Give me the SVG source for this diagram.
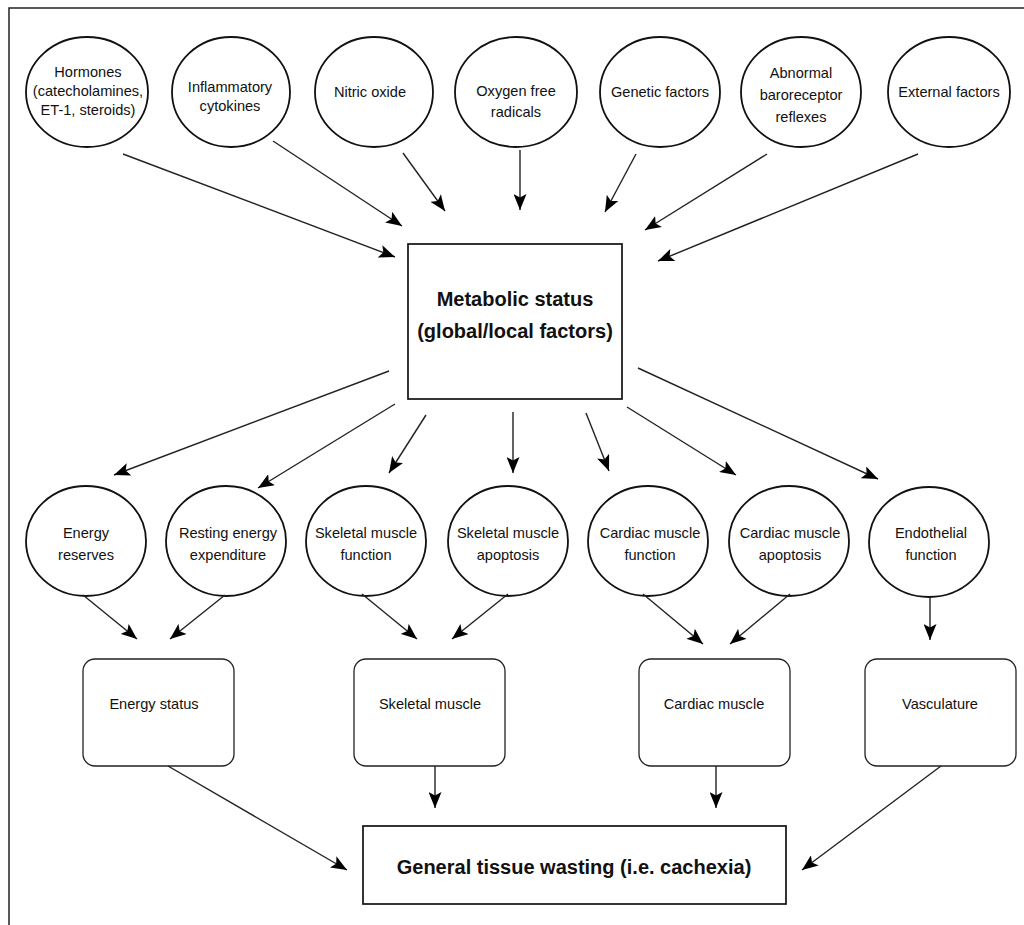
<svg xmlns="http://www.w3.org/2000/svg" width="1024" height="925" viewBox="0 0 1024 925">
<style>
  .frame { fill: none; stroke: #222; stroke-width: 1.5; }
  .ell { fill: #fff; stroke: #111; stroke-width: 1.8; }
  .box { fill: #fff; stroke: #111; stroke-width: 1.7; }
  .rbox { fill: #fff; stroke: #222; stroke-width: 1.3; }
  .t { font-family: "Liberation Sans", Arial, sans-serif; font-size: 14.6px; fill: #111; text-anchor: middle; }
  .tb { font-family: "Liberation Sans", Arial, sans-serif; font-size: 20px; font-weight: bold; fill: #111; text-anchor: middle; }
  .c line { stroke: #222; stroke-width: 1.4; marker-end: url(#arr); }
</style>
<defs>
  <marker id="arr" viewBox="0 0 16 13" refX="16" refY="6.5" markerWidth="16" markerHeight="13" markerUnits="userSpaceOnUse" orient="auto">
    <path d="M0,0 L16,6.5 L0,13 L3.5,6.5 z" fill="#000"/>
  </marker>
</defs>
<rect width="1024" height="925" fill="#fff"/>
<path class="frame" d="M1024,8 H9 V925"/>

<g id="n-hormones"><ellipse class="ell" cx="87" cy="92" rx="61" ry="55"/>
  <text class="t" x="88" y="77">Hormones</text><text class="t" x="88" y="96">(catecholamines,</text><text class="t" x="88" y="115">ET-1, steroids)</text></g>
<g id="n-inflammatory"><ellipse class="ell" cx="231" cy="92" rx="59" ry="55"/>
  <text class="t" x="230" y="92">Inflammatory</text><text class="t" x="230" y="111">cytokines</text></g>
<g id="n-nitric"><ellipse class="ell" cx="374" cy="92" rx="59" ry="55"/>
  <text class="t" x="370" y="97">Nitric oxide</text></g>
<g id="n-oxygen"><ellipse class="ell" cx="516" cy="92" rx="61" ry="55"/>
  <text class="t" x="516" y="96">Oxygen free</text><text class="t" x="516" y="117">radicals</text></g>
<g id="n-genetic"><ellipse class="ell" cx="660" cy="92" rx="60" ry="55"/>
  <text class="t" x="660" y="97">Genetic factors</text></g>
<g id="n-abnormal"><ellipse class="ell" cx="801" cy="92" rx="60" ry="55"/>
  <text class="t" x="801" y="78">Abnormal</text><text class="t" x="801" y="100">baroreceptor</text><text class="t" x="801" y="122">reflexes</text></g>
<g id="n-external"><ellipse class="ell" cx="949" cy="92" rx="61" ry="55"/>
  <text class="t" x="949" y="97">External factors</text></g>

<g id="n-metabolic"><rect class="box" x="408" y="244" width="214" height="155"/>
  <text class="tb" x="515" y="306">Metabolic status</text><text class="tb" x="515" y="338">(global/local factors)</text></g>

<g id="n-energy-reserves"><ellipse class="ell" cx="86" cy="541" rx="60" ry="55"/>
  <text class="t" x="86" y="538">Energy</text><text class="t" x="86" y="560">reserves</text></g>
<g id="n-resting"><ellipse class="ell" cx="226" cy="541" rx="60" ry="55"/>
  <text class="t" x="228" y="538">Resting energy</text><text class="t" x="228" y="560">expenditure</text></g>
<g id="n-skel-func"><ellipse class="ell" cx="366" cy="541" rx="60" ry="55"/>
  <text class="t" x="366" y="538">Skeletal muscle</text><text class="t" x="366" y="560">function</text></g>
<g id="n-skel-apop"><ellipse class="ell" cx="508" cy="541" rx="60" ry="55"/>
  <text class="t" x="508" y="538">Skeletal muscle</text><text class="t" x="508" y="560">apoptosis</text></g>
<g id="n-card-func"><ellipse class="ell" cx="648" cy="541" rx="60" ry="55"/>
  <text class="t" x="650" y="538">Cardiac muscle</text><text class="t" x="650" y="560">function</text></g>
<g id="n-card-apop"><ellipse class="ell" cx="789" cy="541" rx="60" ry="55"/>
  <text class="t" x="790" y="538">Cardiac muscle</text><text class="t" x="790" y="560">apoptosis</text></g>
<g id="n-endothelial"><ellipse class="ell" cx="929" cy="542" rx="60" ry="55"/>
  <text class="t" x="931" y="538">Endothelial</text><text class="t" x="931" y="560">function</text></g>

<g id="n-energy-status"><rect class="rbox" x="83" y="659" width="151" height="107" rx="12"/>
  <text class="t" x="154" y="709">Energy status</text></g>
<g id="n-skeletal"><rect class="rbox" x="354" y="659" width="151" height="107" rx="12"/>
  <text class="t" x="430" y="709">Skeletal muscle</text></g>
<g id="n-cardiac"><rect class="rbox" x="639" y="659" width="151" height="107" rx="12"/>
  <text class="t" x="714" y="709">Cardiac muscle</text></g>
<g id="n-vasculature"><rect class="rbox" x="865" y="659" width="151" height="107" rx="12"/>
  <text class="t" x="940" y="709">Vasculature</text></g>

<g id="n-general"><rect class="box" x="363" y="826" width="423" height="78"/>
  <text class="tb" x="574" y="874">General tissue wasting (i.e. cachexia)</text></g>

<g id="connectors" class="c">
  <line x1="123" y1="154" x2="395" y2="257"/>
  <line x1="273" y1="141" x2="402" y2="226"/>
  <line x1="403" y1="153" x2="445" y2="211"/>
  <line x1="520" y1="150" x2="520" y2="210"/>
  <line x1="636" y1="154" x2="605" y2="212"/>
  <line x1="767" y1="154" x2="645" y2="230"/>
  <line x1="918" y1="154" x2="658" y2="261"/>

  <line x1="389" y1="371" x2="114" y2="475"/>
  <line x1="395" y1="404" x2="258" y2="488"/>
  <line x1="426" y1="415" x2="389" y2="473"/>
  <line x1="513" y1="412" x2="513" y2="473"/>
  <line x1="586" y1="413" x2="609" y2="471"/>
  <line x1="627" y1="407" x2="736" y2="475"/>
  <line x1="638" y1="368" x2="878" y2="479"/>

  <line x1="83" y1="595" x2="137" y2="639"/>
  <line x1="225" y1="595" x2="170" y2="639"/>
  <line x1="362" y1="594" x2="417" y2="639"/>
  <line x1="508" y1="594" x2="452" y2="639"/>
  <line x1="643" y1="594" x2="703" y2="644"/>
  <line x1="790" y1="594" x2="730" y2="644"/>
  <line x1="930" y1="597" x2="930" y2="640"/>

  <line x1="168" y1="766" x2="347" y2="870"/>
  <line x1="435" y1="766" x2="435" y2="808"/>
  <line x1="716" y1="766" x2="716" y2="808"/>
  <line x1="941" y1="766" x2="802" y2="870"/>
</g>
</svg>
